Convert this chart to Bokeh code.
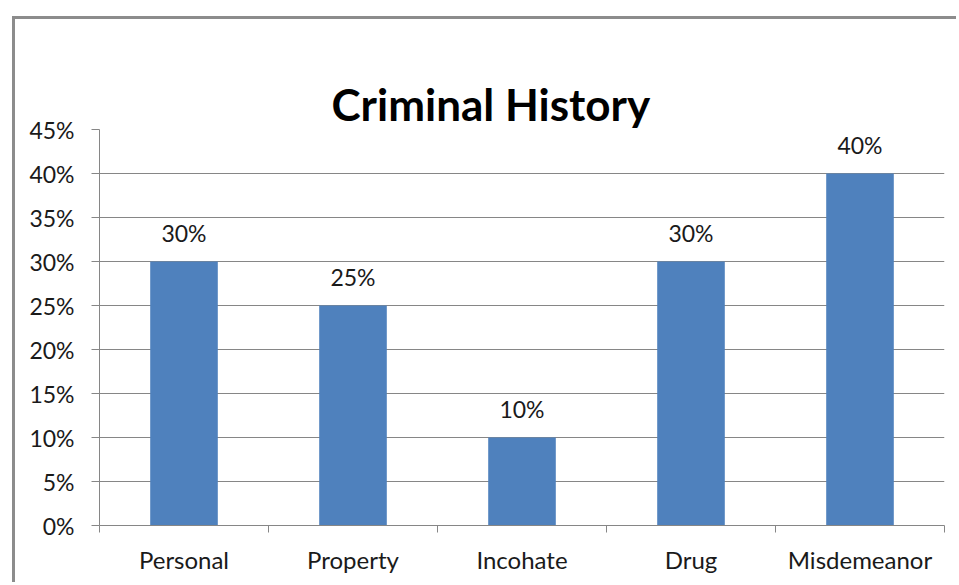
from bokeh.plotting import figure
from bokeh.models import ColumnDataSource, FixedTicker, NumeralTickFormatter, Range1d, Title
from bokeh.embed import file_html
from bokeh.resources import INLINE
from bokeh.core.properties import value

categories = ["Personal", "Property", "Incohate", "Drug", "Misdemeanor"]
values = [0.30, 0.25, 0.10, 0.30, 0.40]
labels = ["30%", "25%", "10%", "30%", "40%"]
y_ticks = [0.0, 0.05, 0.10, 0.15, 0.20, 0.25, 0.30, 0.35, 0.40, 0.45]

FONT = "Lato"
GRAY = "#868686"
TEXT = "#1a1a1a"

xs = [i + 0.5 for i in range(len(categories))]
src = ColumnDataSource(dict(x=xs, top=values, label=labels))

p = figure(width=944, height=566, output_backend="svg", toolbar_location=None,
           x_range=Range1d(0, len(categories)), y_range=Range1d(0, 0.45),
           min_border_left=84, min_border_right=15, min_border_top=110, min_border_bottom=60,
           margin=(16, 0, 0, 12),
           styles={"border-left": "3px solid #8c8c8c", "border-top": "3px solid #8c8c8c"})
p.outline_line_color = None
p.background_fill_color = "white"
p.border_fill_color = "white"

p.vbar(x="x", top="top", width=0.4, source=src, fill_color="#4F81BD", line_color=None)
p.text(x="x", y="top", text="label", source=src, text_align="center", text_baseline="bottom",
       y_offset=-15, text_font=value(FONT), text_font_size="23px", text_color=TEXT)

# invisible spacer between plot frame and title (first added = nearest the frame)
spacer = Title(text=".", text_font=FONT, text_font_size="10px", standoff=19,
               text_alpha=0, text_color="white")
p.add_layout(spacer, "above")
title = Title(text="Criminal History", align="left", offset=232,
              text_font=FONT, text_font_size="44px", text_font_style="bold", text_color="black",
              standoff=0)
p.add_layout(title, "above")

# x axis
p.xaxis.ticker = FixedTicker(ticks=xs, minor_ticks=list(range(len(categories) + 1)))
p.xaxis.major_label_overrides = {x: c for x, c in zip(xs, categories)}
p.xaxis.major_tick_line_color = None
p.xaxis.minor_tick_line_color = GRAY
p.xaxis.minor_tick_out = 7
p.xaxis.minor_tick_in = 0
p.xaxis.axis_line_color = GRAY
p.xaxis.major_label_text_font = FONT
p.xaxis.major_label_text_font_size = "24px"
p.xaxis.major_label_text_color = TEXT
p.xaxis.major_label_standoff = 12

# y axis
p.yaxis.ticker = FixedTicker(ticks=y_ticks, minor_ticks=[])
p.yaxis.formatter = NumeralTickFormatter(format="0%")
p.yaxis.axis_line_color = GRAY
p.yaxis.major_tick_line_color = GRAY
p.yaxis.major_tick_out = 8
p.yaxis.major_tick_in = 0
p.yaxis.major_label_text_font = FONT
p.yaxis.major_label_text_font_size = "23px"
p.yaxis.major_label_text_color = TEXT
p.yaxis.major_label_standoff = 17

p.xgrid.grid_line_color = None
p.ygrid.ticker = FixedTicker(ticks=y_ticks)
p.ygrid.grid_line_color = GRAY

open("out.html", "w").write(file_html(p, INLINE))
